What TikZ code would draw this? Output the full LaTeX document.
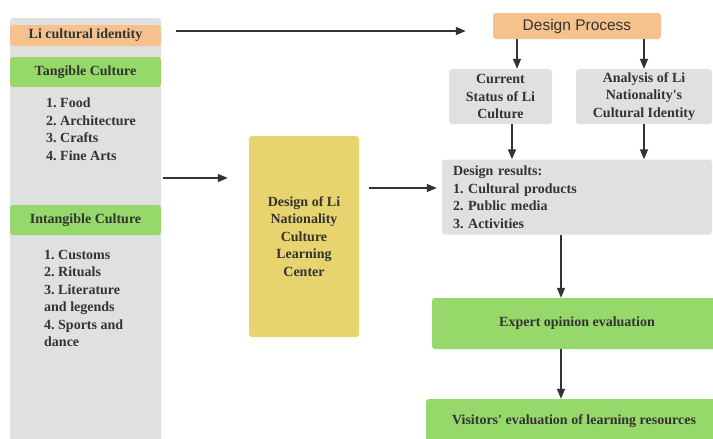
\documentclass[tikz,border=0pt]{standalone}
\usepackage{fontspec}
\setmainfont{Liberation Serif}
\newfontfamily\dpfont{Liberation Sans}
\usetikzlibrary{arrows.meta,calc}
\frenchspacing
\definecolor{gfill}{HTML}{E0E0E0}
\definecolor{ofill}{HTML}{F5C28E}
\definecolor{grfill}{HTML}{96D96A}
\definecolor{yfill}{HTML}{E8D46E}
\definecolor{txt}{HTML}{333333}
\tikzset{
  box/.style={rounded corners=3pt, draw=none, inner sep=0pt, align=center, text=txt, font=\bfseries\fontsize{14}{17.5}\selectfont},
  graybox/.style={box, fill=gfill},
  orangebox/.style={box, fill=ofill},
  greenbox/.style={box, fill=grfill},
  yellowbox/.style={box, fill=yfill},
  listtext/.style={inner sep=0pt, align=left, text=txt, font=\bfseries\fontsize{14}{17.5}\selectfont, anchor=north west},
  arr/.style={draw=txt, line width=1.5pt, -{Triangle[length=10pt,width=8pt]}}
}
\begin{document}
\begin{tikzpicture}[x=1pt,y=-1pt]
\useasboundingbox (0,0) rectangle (713,439);
\clip (0,0) rectangle (713,439);
% left column
\node[graybox, minimum width=151pt, minimum height=444pt] (col) at (85.5,240) {};
\node[orangebox, minimum width=151pt, minimum height=21pt] (li) at (85.5,35.5) {Li cultural identity};
\node[greenbox, minimum width=151pt, minimum height=30pt] (tang) at (85.5,72) {Tangible Culture};
\node[listtext] (tlist) at (46,98) {1. Food\\2. Architecture\\3. Crafts\\4. Fine Arts};
\node[greenbox, minimum width=151pt, minimum height=30pt] (intang) at (85.5,220) {Intangible Culture};
\node[listtext] (ilist) at (44,250) {1. Customs\\2. Rituals\\3. Literature\\and legends\\4. Sports and\\dance};
% centre
\node[yellowbox, minimum width=110pt, minimum height=201pt] (yel) at (304,236.5) {Design of Li\\Nationality\\Culture\\Learning\\Center};
% right
\node[orangebox, minimum width=168pt, minimum height=26pt, font=\dpfont\fontsize{15.5}{18}\selectfont] (dp) at (577,26) {Design Process};
\node[graybox, minimum width=103pt, minimum height=55pt] (cur) at (500.5,96.5) {Current\\Status of Li\\Culture};
\node[graybox, minimum width=136pt, minimum height=55pt] (ana) at (644,96.5) {Analysis of Li\\Nationality\textquotesingle s\\Cultural Identity};
\node[graybox, minimum width=270pt, minimum height=75pt, text width=248pt, inner xsep=11pt, align=left] (res) at (577,197) {Design results:\\1. Cultural products\\2. Public media\\3. Activities};
\node[greenbox, minimum width=290pt, minimum height=51pt] (exp) at (577,323.5) {Expert opinion evaluation};
\node[greenbox, minimum width=296pt, minimum height=44pt] (vis) at (574,421) {Visitors\textquotesingle\ evaluation of learning resources};
% arrows
\draw[arr] ([xshift=15pt,yshift=4.5pt]li.east) -- ([xshift=-27pt,yshift=-5pt]dp.west);
\draw[arr] ([xshift=2pt,yshift=62pt]col.east) -- ([xshift=-21pt,yshift=58.5pt]yel.west);
\draw[arr] ([xshift=10pt,yshift=48.5pt]yel.east) -- ([xshift=-5pt,yshift=9pt]res.west);
\draw[arr] ([xshift=-60pt]dp.south) -- ([xshift=-60pt]dp.south |- cur.north);
\draw[arr] ([xshift=67pt]dp.south) -- ([xshift=67pt]dp.south |- ana.north);
\draw[arr] ([xshift=11.5pt]cur.south) -- ([xshift=11.5pt]cur.south |- res.north);
\draw[arr] (ana.south) -- (ana.south |- res.north);
\draw[arr] ([xshift=-16pt]res.south) -- ([xshift=-16pt]res.south |- exp.north);
\draw[arr] ([xshift=-16pt]exp.south) -- ([xshift=-16pt]exp.south |- vis.north);
\end{tikzpicture}
\end{document}
